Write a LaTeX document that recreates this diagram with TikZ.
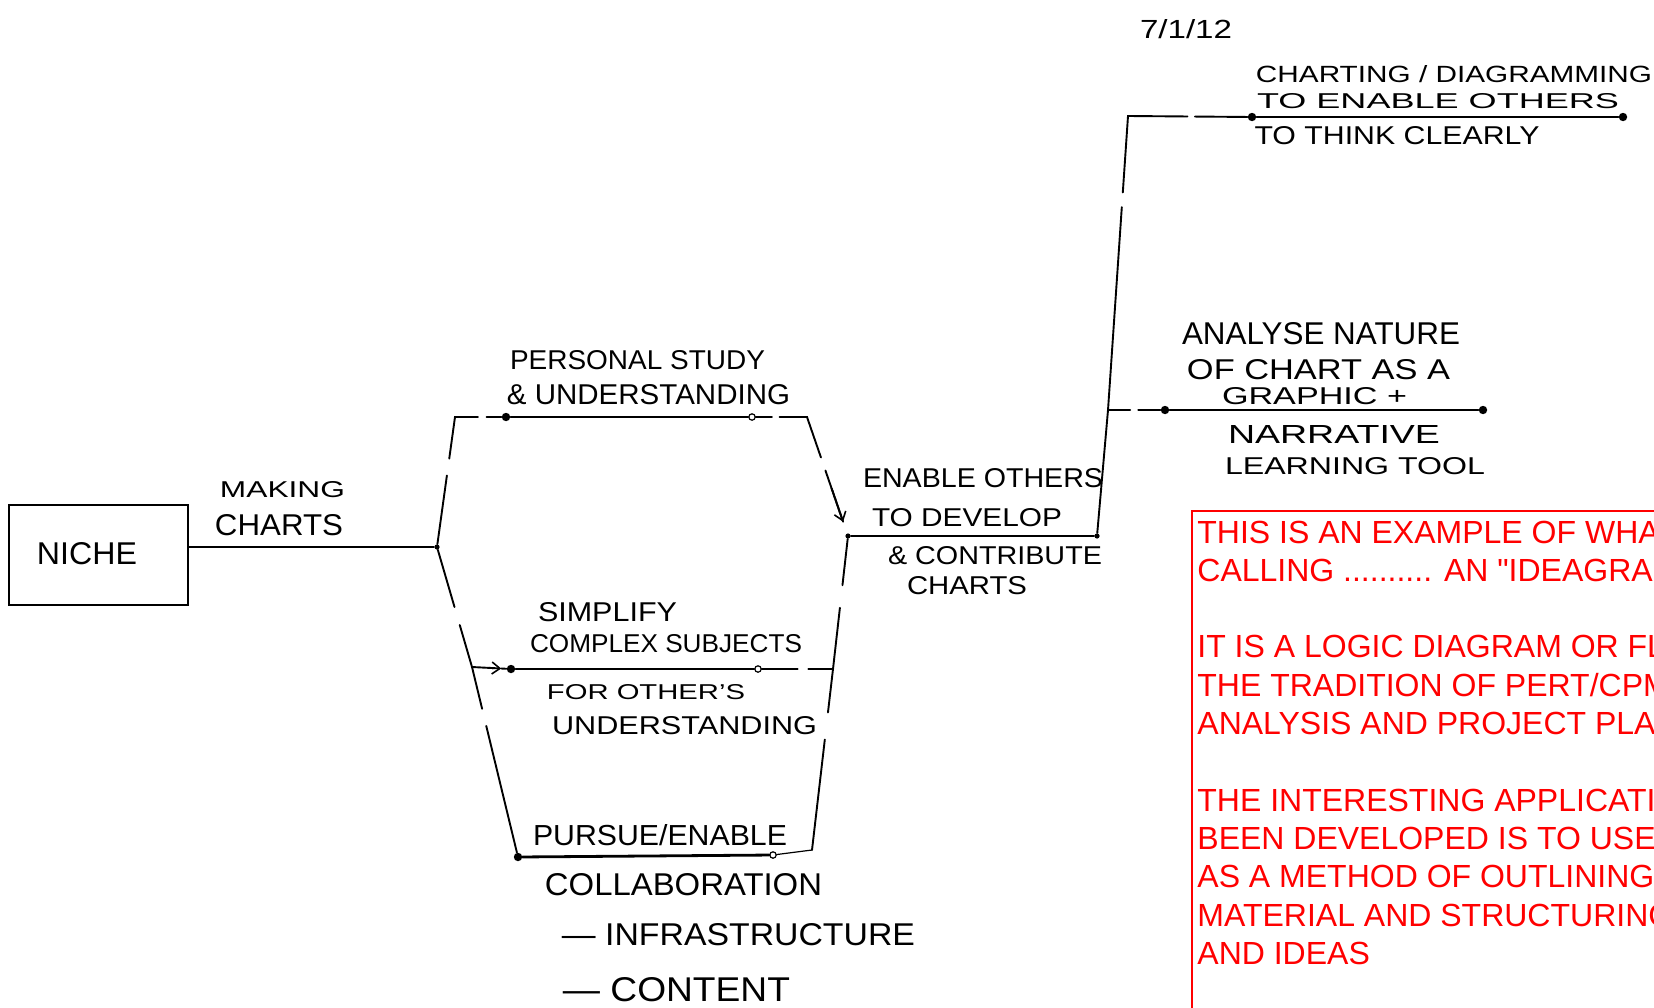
\documentclass[tikz,border=0pt]{standalone}
\usepackage{fontspec}
\setsansfont{Liberation Sans}
\newfontfamily\notefont{Liberation Sans}[Ligatures=TeXOff]
\usetikzlibrary{arrows.meta,calc}

% one drawing unit = one pixel of the sheet
\newlength\pxu
\setlength\pxu{0.5pt}
% hand-lettered label squeezed to a given width and cap height (in pixels)
\newcommand\hand[3]{\resizebox{#1\pxu}{#2\pxu}{\sffamily #3}}

\begin{document}
\begin{tikzpicture}[x=0.5pt, y=-0.5pt,
  pen/.style={line width=0.95pt, line cap=round},
  heavypen/.style={line width=1.4pt, line cap=round},
  thinpen/.style={line width=0.6pt, line cap=round},
  dot/.style={circle, fill=black, inner sep=0pt, minimum size=4.2pt},
  smalldot/.style={circle, fill=black, inner sep=0pt, minimum size=2.6pt},
  hdot/.style={circle, draw=black, fill=white, inner sep=0pt, minimum size=3.2pt, line width=0.6pt},
  lbl/.style={inner sep=0pt, text=black},
  tip/.style={-{Straight Barb[length=4pt, width=6pt, line width=0.8pt]}},
  note/.style={inner sep=0pt, anchor=base west, text=red, font=\notefont\fontsize{16pt}{19pt}\selectfont},
]
\useasboundingbox (0,0) rectangle (1654,1007);
\clip (0,0) rectangle (1654,1007);
\fill[white] (0,0) rectangle (1654,1007);

% ---------- start box ----------
\node[draw=black, line width=0.75pt, minimum width=89.5pt, minimum height=50pt, inner sep=0pt]
  (niche) at (98.5,555) {};
\node[lbl] (tNiche) at (87,554) {\hand{100}{22}{NICHE}};

% ---------- junctions and events ----------
\node[smalldot] (L) at (437,547) {};
\coordinate (TL) at (455,417);
\node[dot] (p1) at (506,417) {};
\node[hdot] (p2) at (752,417) {};
\coordinate (TR) at (807,417);
\node[smalldot] (R) at (848,536) {};
\coordinate (S1) at (472,667);
\node[dot] (s3) at (511,669) {};
\node[hdot] (s4) at (758,669) {};
\coordinate (S2) at (833,669);
\node[dot] (bl) at (518,857) {};
\node[hdot] (b2) at (773,855) {};
\coordinate (BR) at (812,850);
\node[smalldot] (E2) at (1097,536) {};
\coordinate (A0) at (1108,410);
\coordinate (TC) at (1128,116);
\node[dot] (c1) at (1252,117) {};
\node[dot] (c2) at (1623,117) {};
\node[dot] (a1) at (1165,410) {};
\node[dot] (a2) at (1483,410) {};

% ---------- connectors ----------
\draw[thinpen] (niche.east |- L) -- (L);

% upper branch
\draw[pen] (L) -- ($(L)!0.55!(TL)$) ($(L)!0.68!(TL)$) -- (TL)
  -- ($(TL)!0.45!(p1)$) ($(TL)!0.62!(p1)$) -- (p1);
\draw[pen] (p1) -- (p2) -- ($(p2)!0.36!(TR)$) ($(p2)!0.5!(TR)$) -- (TR)
  -- ($(TR)!0.34!(R)$) ($(TR)!0.45!(R)$) -- ($(TR)!0.88!(R)$);
\draw[pen, tip] ($(TR)!0.6!(R)$) -- ($(TR)!0.88!(R)$);

% middle branch
\draw[pen] (L) -- ($(L)!0.5!(S1)$) ($(L)!0.65!(S1)$) -- (S1)
  -- ($(S1)!0.22!(bl)$) ($(S1)!0.31!(bl)$) -- (bl);
\draw[pen] (S1) -- ($(S1)!0.55!(s3)$);
\draw[pen, tip] ($(S1)!0.45!(s3)$) -- ($(S1)!0.75!(s3)$);
\draw[pen] ($(S1)!0.75!(s3)$) -- (s3) -- (s4)
  -- ($(s4)!0.53!(S2)$) ($(s4)!0.67!(S2)$) -- (S2);

% lower branch
\draw[heavypen] (bl) -- (b2);
\draw[thinpen] (b2) -- (BR);

% merge on the right
\draw[pen] (R) -- ($(R)!0.37!(S2)$) ($(R)!0.54!(S2)$) -- (S2)
  -- ($(S2)!0.24!(BR)$) ($(S2)!0.39!(BR)$) -- (BR);
\draw[pen] (R) -- (E2);

% onward branches
\draw[pen] (E2) -- (A0) -- ($(A0)!0.69!(TC)$) ($(A0)!0.74!(TC)$) -- (TC)
  -- ($(TC)!0.48!(c1)$) ($(TC)!0.54!(c1)$) -- (c1) -- (c2);
\draw[pen] (A0) -- ($(A0)!0.39!(a1)$) ($(A0)!0.53!(a1)$) -- (a1) -- (a2);

% ---------- hand-lettered labels ----------
\node[lbl] (tMak1) at (282.5,490) {\hand{125}{16}{MAKING}};
\node[lbl] (tMak2) at (279,525) {\hand{128}{21}{CHARTS}};

\node[lbl] (tPer1) at (637.5,360) {\hand{255}{19}{PERSONAL STUDY}};
\node[lbl] (tPer2) at (648.5,395) {\hand{283}{20}{\& UNDERSTANDING}};

\node[lbl] (tSim1) at (607.5,612) {\hand{139}{19}{SIMPLIFY}};
\node[lbl] (tSim2) at (666,644) {\hand{272}{18}{COMPLEX SUBJECTS}};
\node[lbl] (tSim3) at (646,692) {\hand{198}{15}{FOR OTHER'S}};
\node[lbl] (tSim4) at (684.5,726) {\hand{265}{18}{UNDERSTANDING}};

\node[lbl] (tPur1) at (660,835) {\hand{254}{21}{PURSUE/ENABLE}};
\node[lbl] (tPur2) at (683.5,885) {\hand{277}{22}{COLLABORATION}};
\node[lbl] (tPur3) at (738.5,935) {\hand{353}{22}{--- INFRASTRUCTURE}};
\node[lbl] (tPur4) at (676.5,990) {\hand{227}{24}{--- CONTENT}};

\node[lbl] (tEn1) at (983,478) {\hand{240}{19}{ENABLE OTHERS}};
\node[lbl] (tEn2) at (967,518) {\hand{190}{18}{TO DEVELOP}};
\node[lbl] (tEn3) at (995,556) {\hand{214}{18}{\& CONTRIBUTE}};
\node[lbl] (tEn4) at (967,586) {\hand{120}{18}{CHARTS}};

\node[lbl] (tDate) at (1186,29) {\hand{92}{19}{7/1/12}};

\node[lbl] (tCh1) at (1454,74) {\hand{396}{17}{CHARTING / DIAGRAMMING}};
\node[lbl] (tCh2) at (1438,101) {\hand{362}{15}{TO ENABLE OTHERS}};
\node[lbl] (tCh3) at (1397,136) {\hand{285}{18}{TO THINK CLEARLY}};

\node[lbl] (tAn1) at (1321,334) {\hand{278}{22}{ANALYSE NATURE}};
\node[lbl] (tAn2) at (1318.5,370) {\hand{263}{20}{OF CHART AS A}};
\node[lbl] (tAn3) at (1314.5,396) {\hand{185}{17}{GRAPHIC +}};
\node[lbl] (tAn4) at (1334,434) {\hand{212}{18}{NARRATIVE}};
\node[lbl] (tAn5) at (1355,466) {\hand{260}{17}{LEARNING TOOL}};

% ---------- typed note ----------
\draw[red, line width=1pt] (1192,511) rectangle (1720,1080);
\node[note] (n1) at (1197,543) {THIS IS AN EXAMPLE OF WHAT};
\node[note] (n2) at (1197,581.3) {CALLING .......... AN "IDEAGRAM"};
\node[note] (n3) at (1197,657.9) {IT IS A LOGIC DIAGRAM OR FLOW};
\node[note] (n4) at (1197,696.2) {THE TRADITION OF PERT/CPM};
\node[note] (n5) at (1197,734.5) {ANALYSIS AND PROJECT PLANNING};
\node[note] (n6) at (1197,811.1) {THE INTERESTING APPLICATION};
\node[note] (n7) at (1197,849.4) {BEEN DEVELOPED IS TO USE};
\node[note] (n8) at (1197,887.7) {AS A METHOD OF OUTLINING};
\node[note] (n9) at (1197,926) {MATERIAL AND STRUCTURING};
\node[note] (n10) at (1197,964.3) {AND IDEAS};
\end{tikzpicture}
\end{document}
